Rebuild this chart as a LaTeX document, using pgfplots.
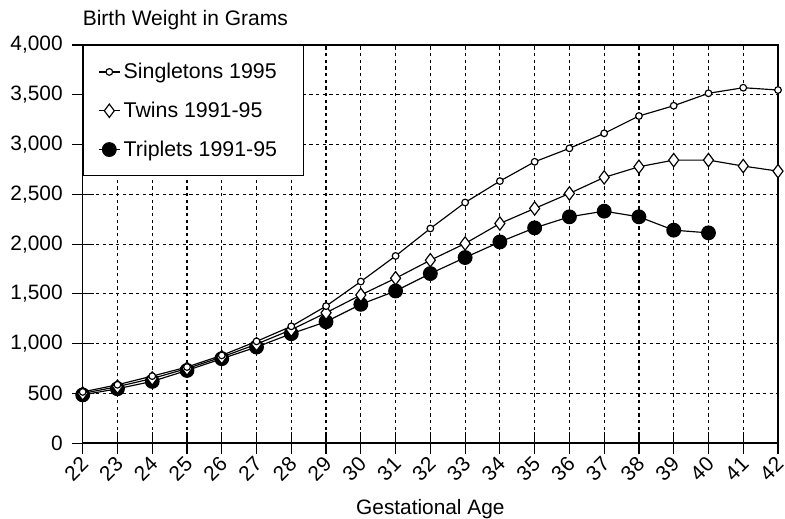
\documentclass[border=0pt]{standalone}
\usepackage{pgfplots}
\pgfplotsset{compat=1.18}
\usepackage{fontspec}
\setmainfont{Liberation Sans}
\pgfplotstableread{
w s t r
22 515 500 485
23 587 568 547
24 674 650 621
25 765 750 731
26 882 865 849
27 1023 995 966
28 1174 1140 1100
29 1377 1310 1220
30 1624 1489 1395
31 1881 1657 1529
32 2157 1838 1704
33 2418 2006 1865
34 2633 2207 2022
35 2827 2358 2163
36 2962 2509 2274
37 3113 2670 2331
38 3287 2777 2274
39 3390 2844 2140
40 3515 2844 2113
41 3571 2784 nan
42 3548 2733 nan
}\data
\begin{document}
\begin{tikzpicture}
\begin{axis}[
  name=ax,
  scale only axis,
  width=417pt, height=238.8pt,
  xmin=22, xmax=42, ymin=0, ymax=4000,
  xtick={22,...,42},
  ytick={0,500,...,4000},
  scaled y ticks=false,
  /pgf/number format/.cd, 1000 sep={,}, assume math mode=true, /pgfplots/.cd,
  ticklabel style={font=\fontsize{12.5}{14}\selectfont},
  xticklabel style={rotate=45, anchor=east, xshift=1.5pt, yshift=-3.5pt},
  yticklabel style={xshift=-2pt},
  tick align=center,
  major tick length=13pt,
  xtick pos=bottom, ytick pos=left,
  tick style={black, line width=0.7pt},
  axis line style={black, line width=0.9pt},
  grid=major,
  major grid style={black, line width=0.7pt, dash pattern=on 2pt off 2pt},
  xlabel={Gestational Age},
  ylabel={Birth Weight in Grams},
  every axis x label/.style={at={(rel axis cs:0.5,0)}, anchor=base, yshift=-42.5pt, font=\fontsize{12.5}{14}\selectfont},
  every axis y label/.style={at={(rel axis cs:0,1)}, anchor=base west, xshift=-3.5pt, yshift=12pt, font=\fontsize{12.6}{14}\selectfont},
  reverse legend,
  legend style={at={(rel axis cs:0,1)}, anchor=north west, draw=black, line width=0.7pt, fill=white,
    font=\fontsize{12.8}{15}\selectfont, row sep=8.5pt, inner xsep=9pt, inner ysep=8.4pt,
    cells={anchor=west}},
  legend cell align=left,
  legend image code/.code={\draw[mark repeat=2,mark phase=2] plot coordinates {(0cm,0cm) (0.22cm,0cm) (0.44cm,0cm)};},
  every axis plot/.append style={black, line width=0.7pt},
]
\addplot[mark=*, mark size=4.1pt, mark options={fill=black, draw=black}, unbounded coords=jump] table[x=w,y=r]{\data};
\addlegendentry{Triplets 1991-95}
\addplot[mark=diamond*, mark size=4pt, mark options={fill=white, draw=black}] table[x=w,y=t]{\data};
\addlegendentry{Twins 1991-95}
\addplot[mark=*, mark size=2pt, mark options={fill=white, draw=black}] table[x=w,y=s]{\data};
\addlegendentry{Singletons 1995\hspace*{5pt}}
\end{axis}
\pgfresetboundingbox
\path ([shift={(-49.6pt,-45.2pt)}]ax.south west) rectangle ([shift={(4.2pt,27pt)}]ax.north east);
\end{tikzpicture}
\end{document}
